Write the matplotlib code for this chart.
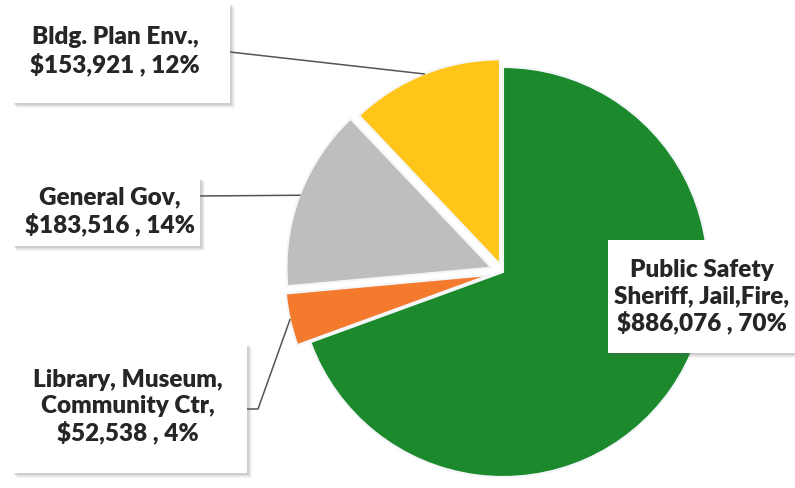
import numpy as np
import matplotlib.pyplot as plt
from matplotlib.patches import Rectangle

W, H = 795, 488

# datos del grafico (orden horario desde las 12)
categorias = ["Public Safety\nSheriff, Jail,Fire,", "Library, Museum,\nCommunity Ctr,",
              "General Gov,", "Bldg. Plan Env.,"]
montos = [886076, 52538, 183516, 153921]
porcentajes = ["70%", "4%", "14%", "12%"]
colores = ["#1C8A2C", "#F47A2E", "#BEBEBE", "#FFC619"]
separacion = [0, 0.065, 0.06, 0.04]

# cajas de etiquetas en pixeles (x0, y0 arriba, x1, y1 abajo)
cajas = [(608, 240, 795, 353), (12, 343, 247, 473), (12, 177, 200, 246), (12, 3, 230, 103)]
centros_texto = [(702, 297), (128, 407), (110, 211), (115, 51)]


def px(x, y):
    return x, H - y


fig = plt.figure(figsize=(W / 100, H / 100), dpi=100)

# pie en su propio eje, radio 205 px centrado en (503, 272)
cx, cy, r = 503, 272, 205
lado = 2.5 * r
ax_pie = fig.add_axes([(cx - lado / 2) / W, (H - cy - lado / 2) / H, lado / W, lado / H])
cunas, _ = ax_pie.pie(montos, colors=colores, startangle=90, counterclock=False,
                      explode=separacion,
                      wedgeprops=dict(edgecolor="#F4F6FA", linewidth=1.5))
ax_pie.set_xlim(-1.25, 1.25)
ax_pie.set_ylim(-1.25, 1.25)
ax_pie.set_aspect("equal")
ax_pie.axis("off")

# eje superior para cajas y lineas
ax = fig.add_axes([0, 0, 1, 1], zorder=3)
ax.set_xlim(0, W)
ax.set_ylim(0, H)
ax.axis("off")
ax.patch.set_alpha(0)


def punto_cuna(cuna):
    tm = np.deg2rad((cuna.theta1 + cuna.theta2) / 2)
    p = (cuna.center[0] + cuna.r * np.cos(tm), cuna.center[1] + cuna.r * np.sin(tm))
    disp = ax_pie.transData.transform(p)
    return ax.transData.inverted().transform(disp)


# lineas guia
salidas = [None, [(247, 409), (258, 409)], [(200, 196)], [(230, 52)]]
for i, sal in enumerate(salidas):
    if sal is None:
        continue
    xs = [px(*p)[0] for p in sal]
    ys = [px(*p)[1] for p in sal]
    ax_pt = punto_cuna(cunas[i])
    xs.append(ax_pt[0])
    ys.append(ax_pt[1])
    ax.plot(xs, ys, color="#555555", lw=1.1, zorder=2)

# cajas con sombra y texto
for i, (x0, y0, x1, y1) in enumerate(cajas):
    for k, a in [(5, 0.05), (4, 0.07), (3, 0.09), (2, 0.12)]:
        ax.add_patch(Rectangle(px(x0 + k, y1 + k), x1 - x0, y1 - y0,
                               facecolor="#606060", alpha=a, lw=0, zorder=3))
    ax.add_patch(Rectangle(px(x0, y1), x1 - x0, y1 - y0, facecolor="white",
                           lw=0, zorder=4))
    texto = f"{categorias[i]}\n${montos[i]:,} , {porcentajes[i]}"
    tx, ty = px(*centros_texto[i])
    ax.text(tx, ty, texto, ha="center", va="center", fontsize=17.5,
            fontweight="heavy", family="Lato", color="#262626",
            linespacing=1.2, zorder=5)

fig.savefig("out.png", dpi=100)
